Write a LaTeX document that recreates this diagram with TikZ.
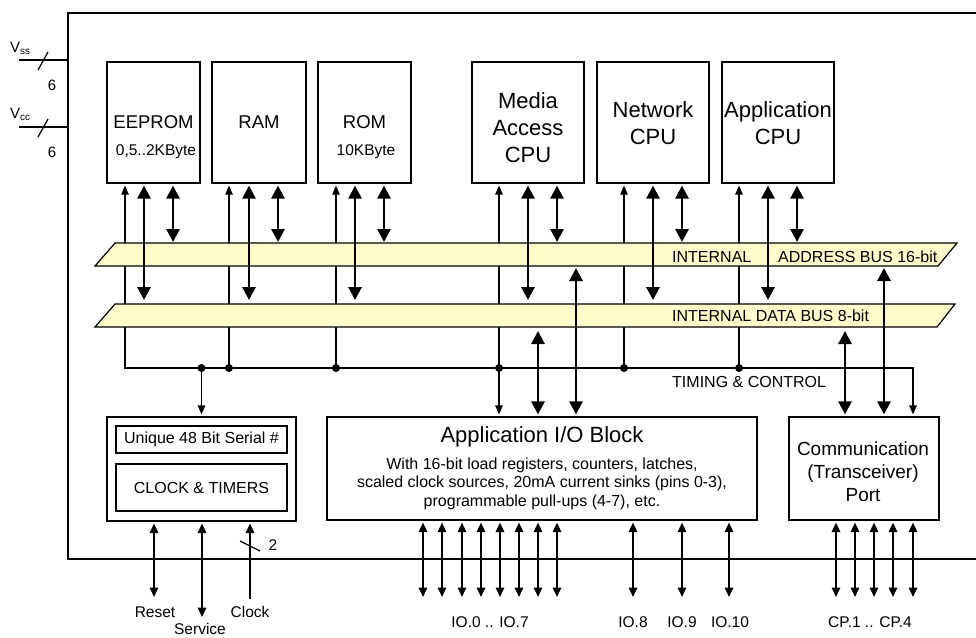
\documentclass[tikz,border=0pt]{standalone}
\usepackage{fontspec}
\setmainfont{Liberation Sans}
\usetikzlibrary{arrows.meta,calc}
\definecolor{busfill}{RGB}{255,252,204}
\newcommand{\fsz}[2]{\fontsize{#1}{#2}\selectfont}
\begin{document}
\begin{tikzpicture}[x=1pt,y=-1pt,
  blockbox/.style={draw, line width=2.8pt, inner sep=0pt, outer sep=2.6pt, font=\fsz{18.5}{22}},
  subbox/.style={draw, line width=1.4pt, inner sep=0pt, font=\fsz{16}{19}},
  lbl/.style={inner sep=0pt, font=\fsz{16}{19}},
  pinlbl/.style={inner sep=0pt, font=\fsz{15.5}{18}},
  cpulbl/.style={inner sep=0pt, font=\fsz{22}{27}, align=center},
  thinline/.style={line width=1.2pt},
  ctl/.style={thinline, -{Triangle[width=7.5pt,length=9pt]}},
  ctlboth/.style={thinline, {Triangle[width=7.5pt,length=9pt]}-{Triangle[width=7.5pt,length=9pt]}},
  busarrow/.style={line width=2.9pt, {Triangle[width=13pt,length=13pt]}-{Triangle[width=13pt,length=13pt]}},
  iopin/.style={line width=1.6pt, {Triangle[width=8.5pt,length=9.5pt]}-{Triangle[width=8.5pt,length=9.5pt]}},
  pinin/.style={line width=1.6pt, -{Triangle[width=8.5pt,length=9.5pt]}},
  busband/.style={fill=busfill, draw, line width=1.2pt},
  junction/.style={circle, fill, inner sep=0pt, minimum size=8pt},
]
\useasboundingbox (0,0) rectangle (976,637);

% chip outline (open to the right)
\draw[line width=1.3pt] (985,13) -- (68,13) -- (68,559) -- (985,559);

% supply pins
\draw[thinline] (19,60) -- (68,60);
\draw[thinline] (38,70) -- (48,52);
\node[inner sep=0pt, anchor=base west, font=\fsz{15}{18}] at (10,52) {V\raisebox{-2.5pt}{\fsz{10}{12}ss}};
\node[inner sep=0pt, font=\fsz{15}{18}] at (52,85) {6};
\draw[thinline] (19,127) -- (68,127);
\draw[thinline] (38,137) -- (48,119);
\node[inner sep=0pt, anchor=base west, font=\fsz{15}{18}] at (10,118) {V\raisebox{-2.5pt}{\fsz{10}{12}cc}};
\node[inner sep=0pt, font=\fsz{15}{18}] at (52,152) {6};

% memory and processor units
\node[blockbox, minimum width=93pt, minimum height=121pt] (eeprom) at (153.5,122.5) {EEPROM};
\node[blockbox, minimum width=94pt, minimum height=121pt] (ram) at (259,122.5) {RAM};
\node[blockbox, minimum width=93pt, minimum height=121pt] (rom) at (364.5,122.5) {ROM};
\node[blockbox, minimum width=112pt, minimum height=121pt] (media) at (528,122.5) {};
\node[blockbox, minimum width=112pt, minimum height=121pt] (net) at (653,122.5) {};
\node[blockbox, minimum width=112pt, minimum height=121pt] (app) at (778,122.5) {};
\node[pinlbl] at (156,152) {0,5..2KByte};
\node[pinlbl] at (366,152) {10KByte};
\node[cpulbl] at (528,128) {Media\\Access\\CPU};
\node[cpulbl] at (653,123.5) {Network\\CPU};
\node[cpulbl] at (778,123.5) {Application\\CPU};

% lower blocks
\node[blockbox, minimum width=189pt, minimum height=104pt] (clk) at (201.5,469) {};
\node[subbox, minimum width=171pt, minimum height=27pt] (serial) at (201.5,439.5) {Unique 48 Bit Serial \#};
\node[subbox, minimum width=171pt, minimum height=47pt] (timers) at (201.5,487.5) {CLOCK \& TIMERS};
\node[blockbox, minimum width=430pt, minimum height=103pt] (iob) at (542,468.5) {};
\node[inner sep=0pt, font=\fsz{22}{26}] at (542,437) {Application I/O Block};
\node[inner sep=0pt, font=\fsz{16}{18.5}, align=center] at (542,483.5)
  {With 16-bit load registers, counters, latches,\\scaled clock sources, 20mA current sinks (pins 0-3),\\programmable pull-ups (4-7), etc.};
\node[blockbox, minimum width=150pt, minimum height=103pt] (comm) at (864,468.5) {};
\node[inner sep=0pt, font=\fsz{19}{23}, align=center] at (863,472) {Communication\\(Transceiver)\\Port};

% bus reference levels
\coordinate (tc) at (0,368);
\coordinate (abtop) at (0,242);
\coordinate (abbot) at (0,268);
\coordinate (dbtop) at (0,300);
\coordinate (dbbot) at (0,331);

% timing & control net
\draw[ctlboth] (125,0 |- eeprom.south) -- (125,0 |- tc) -- (913,0 |- tc) -- (913,0 |- comm.north);
\draw[ctl] (229,0 |- tc) -- (229,0 |- ram.south);
\draw[ctl] (336,0 |- tc) -- (336,0 |- rom.south);
\draw[ctlboth] (499,0 |- iob.north) -- (499,0 |- media.south);
\draw[ctl] (624,0 |- tc) -- (624,0 |- net.south);
\draw[ctl] (739,0 |- tc) -- (739,0 |- app.south);
\draw[ctl] (clk.north |- tc) -- (clk.north);
\foreach \x in {201.5,229,336,499,624,739} \node[junction] at (\x,0 |- tc) {};
\node[lbl, anchor=west] at (672,382) {TIMING \& CONTROL};

% internal buses
\draw[busband] (95,266) -- (115,243) -- (957,243) -- (938,266) -- cycle;
\draw[busband] (95,327) -- (115,304) -- (955,304) -- (937,327) -- cycle;
\node[lbl, anchor=west] at (672,257) {INTERNAL};
\node[lbl, anchor=west] at (778,257) {ADDRESS BUS 16-bit};
\node[lbl, anchor=west] at (672,315.5) {INTERNAL DATA BUS 8-bit};

% data and address bus connections of the units
\foreach \u/\d/\a in {eeprom/144/173, ram/249/278, rom/355/384, media/528/557, net/653/682, app/768/797} {
  \draw[busarrow] (\d,0 |- \u.south) -- (\d,0 |- dbtop);
  \draw[busarrow] (\a,0 |- \u.south) -- (\a,0 |- abtop);
}
\draw[busarrow] (538,0 |- dbbot) -- (538,0 |- iob.north);
\draw[busarrow] (576,0 |- abbot) -- (576,0 |- iob.north);
\draw[busarrow] (845,0 |- dbbot) -- (845,0 |- comm.north);
\draw[busarrow] (884,0 |- abbot) -- (884,0 |- comm.north);

% external pins
\coordinate (resetend) at (154,597);
\coordinate (serviceend) at (202,617);
\coordinate (clockend) at (250,599);
\draw[iopin] (clk.south -| resetend) -- (resetend);
\draw[iopin] (clk.south -| serviceend) -- (serviceend);
\draw[pinin] (clockend) -- (clk.south -| clockend);
\draw[thinline] (240,541) -- (260,551);
\node[inner sep=0pt, font=\fsz{15.5}{18}] at (273,545) {2};
\node[pinlbl] at (155,612) {Reset};
\node[pinlbl, anchor=base] at (200,634) {Service};
\node[pinlbl] at (250,612) {Clock};

\foreach \x in {423,442,462,481,500,519,538,557,633,682,729}
  \draw[iopin] (iob.south -| \x,0) -- (\x,597);
\foreach \x in {836,855,874,893,913}
  \draw[iopin] (comm.south -| \x,0) -- (\x,597);
\node[pinlbl] at (490,622) {IO.0 .. IO.7};
\node[pinlbl] at (633,622) {IO.8};
\node[pinlbl] at (682,622) {IO.9};
\node[pinlbl] at (730,622) {IO.10};
\node[pinlbl] at (870,622) {CP.1 .. CP.4};
\end{tikzpicture}
\end{document}
